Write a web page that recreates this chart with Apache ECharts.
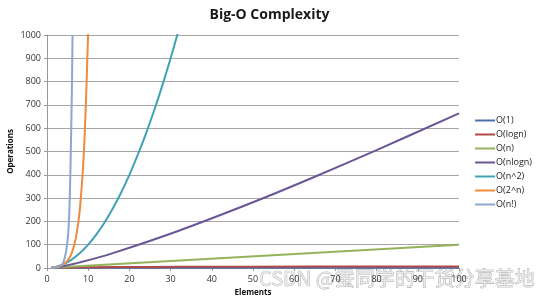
<!DOCTYPE html>
<html><head><meta charset="utf-8">
<script src="https://cdn.jsdelivr.net/npm/echarts@6/dist/echarts.min.js"></script>
<style>html,body{margin:0;padding:0;background:#fff}#c{width:539px;height:300px}</style>
</head><body><div id="c"></div>
<script>
const title = "Big-O Complexity";
const xName = "Elements";
const yName = "Operations";
const seriesNames = ["O(1)", "O(logn)", "O(n)", "O(nlogn)", "O(n^2)", "O(2^n)", "O(n!)"];
const colors = ["#4F6FA8", "#B04A48", "#93B35A", "#6A5596", "#3FA2B5", "#EE8B3C", "#8FA6CF"];
const watermark = "CSDN @蚕同学的干货分享基地";

// [elements, operations]
const o1 = [[1,1],[100,1]];
const ologn = [[1,0],[2,1],[4,2],[8,3],[16,4],[32,5],[64,6],[100,6.64]];
const on = [[1,1],[100,100]];
const onlogn = [[1,0],[2,2],[4,8],[8,24],[16,64],[32,160],[50,282],[64,384],[80,506],[100,664]];
const on2 = [[1,1],[2,4],[4,16],[6,36],[8,64],[10,100],[12,144],[14,196],[16,256],[18,324],[20,400],[22,484],[24,576],[26,676],[28,784],[30,900],[32,1024]];
const o2n = [[1,2],[2,4],[3,8],[4,16],[5,32],[6,64],[7,128],[8,256],[9,512],[10,1024]];
const onf = [[1,1],[2,2],[3,6],[4,24],[5,120],[5.5,287],[6,720],[6.2,1000]];
const allData = [o1, ologn, on, onlogn, on2, o2n, onf];

const chart = echarts.init(document.getElementById('c'));
chart.setOption({
  animation: false,
  color: colors,
  title: { text: title, left: 'center', top: 3, textStyle: { fontFamily: 'Open Sans', fontWeight: 'bold', fontSize: 14, color: '#1a1a1a' } },
  grid: { left: 47, right: 80, top: 35, bottom: 32, containLabel: false, outerBoundsMode: 'none' },
  legend: {
    orient: 'vertical', right: 2, top: 111, itemGap: 5, itemWidth: 20, itemHeight: 2,
    icon: 'rect',
    textStyle: { fontFamily: 'Open Sans', fontSize: 9, color: '#222', padding: [0,0,0,-4] },
    data: seriesNames
  },
  xAxis: {
    type: 'value', min: 0, max: 100, interval: 10,
    name: xName, nameLocation: 'middle', nameGap: 20,
    nameTextStyle: { fontFamily: 'Open Sans', fontWeight: 'bold', fontSize: 8, color: '#111' },
    axisLine: { lineStyle: { color: '#999' } },
    axisTick: { show: true, length: 3, lineStyle: { color: '#999' } },
    splitLine: { show: false },
    axisLabel: { fontFamily: 'Open Sans', fontSize: 9, color: '#333', margin: 7 }
  },
  yAxis: {
    type: 'value', min: 0, max: 1000, interval: 100,
    name: yName, nameLocation: 'middle', nameGap: 32, nameMoveOverlap: false,
    nameTextStyle: { fontFamily: 'Open Sans', fontWeight: 'bold', fontSize: 8, color: '#111' },
    axisLine: { show: true, lineStyle: { color: '#999' } },
    axisTick: { show: true, length: 3, lineStyle: { color: '#999' } },
    splitLine: { lineStyle: { color: '#a6a6a6' } },
    axisLabel: { fontFamily: 'Open Sans', fontSize: 9, color: '#333', margin: 6, formatter: v => String(v) }
  },
  series: seriesNames.map((n, i) => ({
    name: n, type: 'line', data: allData[i], showSymbol: false, symbol: 'none',
    smooth: 0.35, clip: true,
    lineStyle: { width: 2 }
  })),
  graphic: [{
    type: 'text', right: 4, top: 268, silent: true,
    style: { text: watermark, fontFamily: 'Noto Sans CJK SC', fontSize: 20, fill: 'rgba(235,235,235,0.85)', stroke: 'rgba(110,110,110,0.7)', lineWidth: 0.6 }
  }]
});
</script></body></html>
